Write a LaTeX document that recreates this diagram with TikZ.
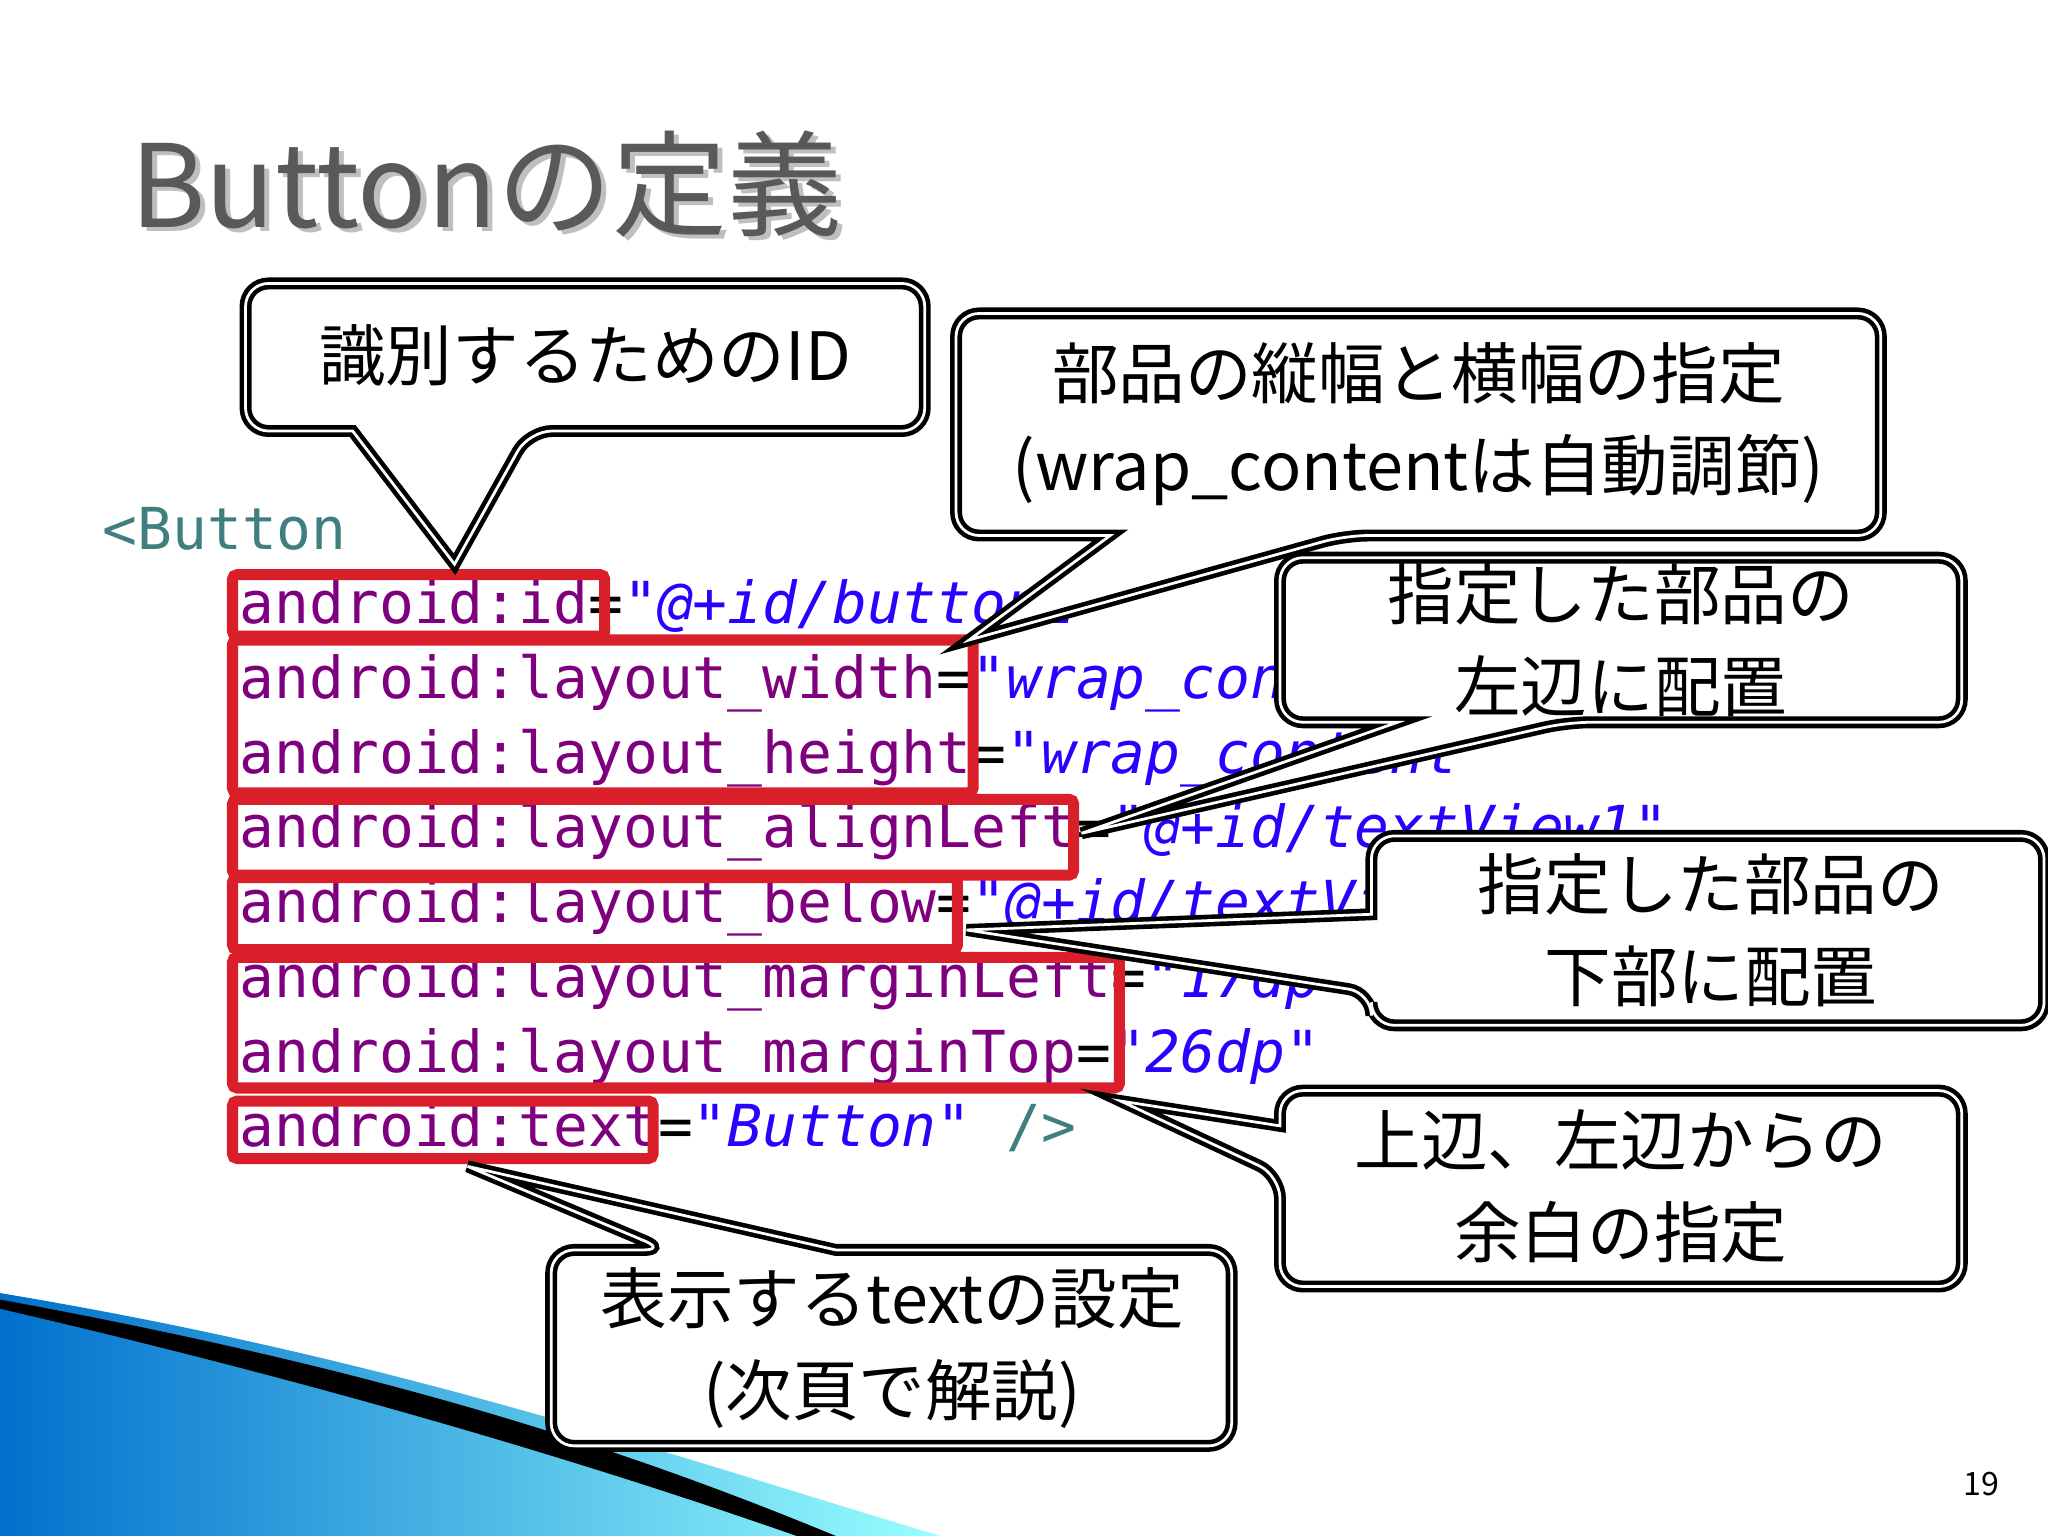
\documentclass[tikz,border=0pt]{standalone}
\usepackage{fontspec}
\setmainfont{Noto Sans CJK JP}
\newfontfamily\codefont{DejaVu Sans Mono}
\newfontfamily\codeit{DejaVu Sans Mono Oblique}
\newfontfamily\titlefont{Noto Sans CJK JP}
\definecolor{attr}{HTML}{7F007F}
\definecolor{val}{HTML}{2A00FF}
\definecolor{tag}{HTML}{3F7F7F}
\definecolor{redbox}{HTML}{D9202A}
\tikzset{
 code/.style={anchor=base west,inner sep=0pt,font=\codefont\fontsize{12.6}{14}\selectfont},
 rbox/.style={draw=redbox,line width=2.4pt,rounded corners=1pt},
 callout/.style={draw=black,fill=white,line width=1pt,rounded corners=5pt,double=white,double distance=0.6pt},
 ctext/.style={align=center,font=\fontsize{14.5}{20}\selectfont,inner sep=0pt},
}
\begin{document}
\begin{tikzpicture}[x=0.01cm,y=-0.01cm]
\useasboundingbox (0,0) rectangle (1568,1176);
\fill[white] (0,0) rectangle (1568,1176);
% swoosh
\shade[left color=blue!45!cyan!80!black,right color=cyan!40] (0,990) .. controls (300,1040) and (500,1110) .. (720,1176) -- (0,1176) -- cycle;
\fill[black] (0,995) .. controls (300,1050) and (480,1110) .. (640,1176) -- (610,1176) .. controls (450,1120) and (250,1060) .. (0,1002) -- cycle;
% title
\node[anchor=base west,inner sep=0pt,text=black!25,font=\titlefont\fontsize{25}{30}\selectfont] at (103,177) {Buttonの定義};
\node[anchor=base west,inner sep=0pt,text=black!65,font=\titlefont\fontsize{25}{30}\selectfont] (title) at (99,174) {Buttonの定義};
% code
\node[code,text=tag] (c0) at (78,421) {<Button};
\node[code] (c1) at (183,477) {\textcolor{attr}{android:id}=\textcolor{val}{\codeit"@+id/button1"}};
\node[code] (c2) at (183,535) {\textcolor{attr}{android:layout\_width}=\textcolor{val}{\codeit"wrap\_content"}};
\node[code] (c3) at (183,592) {\textcolor{attr}{android:layout\_height}=\textcolor{val}{\codeit"wrap\_content"}};
\node[code] (c4) at (183,649) {\textcolor{attr}{android:layout\_alignLeft}=\textcolor{val}{\codeit"@+id/textView1"}};
\node[code] (c5) at (183,706) {\textcolor{attr}{android:layout\_below}=\textcolor{val}{\codeit"@+id/textView1"}};
\node[code] (c6) at (183,764) {\textcolor{attr}{android:layout\_marginLeft}=\textcolor{val}{\codeit"17dp"}};
\node[code] (c7) at (183,821) {\textcolor{attr}{android:layout\_marginTop}=\textcolor{val}{\codeit"26dp"}};
\node[code] (c8) at (183,878) {\textcolor{attr}{android:text}=\textcolor{val}{\codeit"Button"} \textcolor{tag}{/>}};
% red boxes
\draw[rbox] (178,440) rectangle (463,487);
\draw[rbox] (178,490) rectangle (745,607);
\draw[rbox] (178,612) rectangle (822,670);
\draw[rbox] (178,672) rectangle (733,727);
\draw[rbox] (178,733) rectangle (857,833);
\draw[rbox] (178,843) rectangle (500,887);
% callouts
\draw[callout] (188,217) -- (708,217) -- (708,330) -- (405,330) [sharp corners] -- (348,432) -- (270,330) [rounded corners=5pt] -- (188,330) -- cycle;
\node[ctext] (ta) at (448,272) {識別するためのID};
\draw[callout] (732,240) -- (1440,240) -- (1440,410) -- (1030,410) [sharp corners] -- (742,490) -- (850,410) [rounded corners=5pt] -- (732,410) -- cycle;
\node[ctext] (tb) at (1086,325) {部品の縦幅と横幅の指定\\(wrap\_contentは自動調節)};
\draw[callout] (980,427) -- (1502,427) -- (1502,553) -- (1200,553) [sharp corners] -- (828,638) -- (1070,553) [rounded corners=5pt] -- (980,553) -- cycle;
\node[ctext] (tc) at (1241,490) {指定した部品の\\左辺に配置};
\draw[callout] (1050,640) -- (1565,640) -- (1565,785) -- (1050,785) -- (1050,760) [sharp corners] -- (740,712) -- (1050,700) [rounded corners=5pt] -- cycle;
\node[ctext] (td) at (1310,712) {指定した部品の\\下部に配置};
\draw[callout] (980,835) -- (1502,835) -- (1502,985) -- (980,985) -- (980,900) [sharp corners] -- (858,843) -- (980,862) [rounded corners=5pt] -- cycle;
\node[ctext] (te) at (1241,908) {上辺、左辺からの\\余白の指定};
\draw[callout] (422,957) -- (510,957) [sharp corners] -- (358,893) -- (640,957) [rounded corners=5pt] -- (943,957) -- (943,1107) -- (422,1107) -- cycle;
\node[ctext] (tf) at (683,1032) {表示するtextの設定\\(次頁で解説)};
\node[anchor=base,inner sep=0pt,font=\fontsize{7}{8}\selectfont] (pg) at (1517,1145) {19};
\end{tikzpicture}
\end{document}
